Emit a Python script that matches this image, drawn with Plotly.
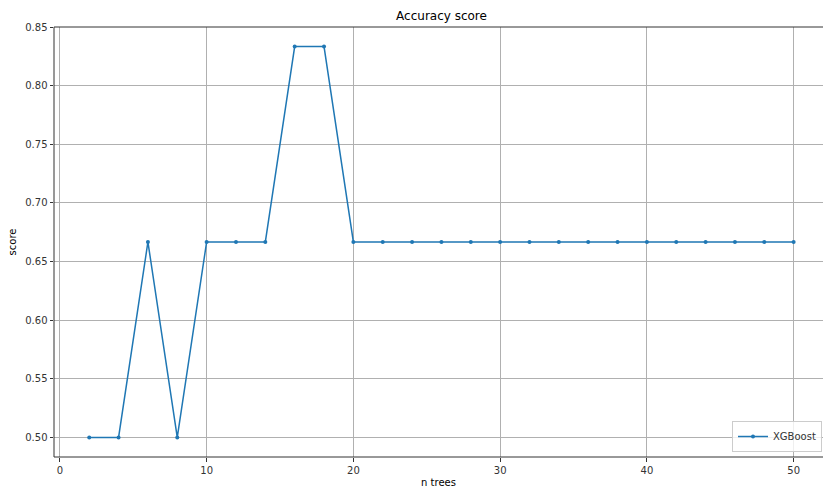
import plotly.graph_objects as go

# Number of trees in the ensemble and the resulting accuracy
n_trees = [2, 4, 6, 8, 10, 12, 14, 16, 18, 20, 22, 24, 26, 28, 30,
           32, 34, 36, 38, 40, 42, 44, 46, 48, 50]
accuracy = [0.5, 0.5, 0.6667, 0.5, 0.6667, 0.6667, 0.6667, 0.8333, 0.8333,
            0.6667, 0.6667, 0.6667, 0.6667, 0.6667, 0.6667, 0.6667, 0.6667,
            0.6667, 0.6667, 0.6667, 0.6667, 0.6667, 0.6667, 0.6667, 0.6667]

x_ticks = [0, 10, 20, 30, 40, 50]
y_ticks = [0.50, 0.55, 0.60, 0.65, 0.70, 0.75, 0.80, 0.85]

BLUE = "#1f77b4"
FONT = "DejaVu Sans"
SPINE = "#333333"

fig = go.Figure()
fig.add_trace(go.Scatter(
    x=n_trees, y=accuracy, mode="lines+markers", name="XGBoost",
    line=dict(color=BLUE, width=1.5),
    marker=dict(color=BLUE, size=4),
))

axis_common = dict(
    showgrid=True, gridcolor="#b0b0b0", gridwidth=0.8,
    showline=False,
    ticks="outside", ticklen=3.5, tickcolor=SPINE, tickwidth=0.8,
    tickfont=dict(family=FONT, size=10, color="#333333"),
    zeroline=False,
)

# left, bottom and top spines (no right spine)
for x0, y0, x1, y1 in [(0, 0, 0, 1), (0, 0, 1, 0), (0, 1, 1, 1)]:
    fig.add_shape(type="line", xref="paper", yref="paper",
                  x0=x0, y0=y0, x1=x1, y1=y1,
                  line=dict(color=SPINE, width=1), layer="above")

fig.update_layout(
    width=823, height=488,
    margin=dict(l=54, r=0, t=27, b=31),
    paper_bgcolor="white", plot_bgcolor="white",
    title=dict(text="Accuracy score", x=(54 + 823 + 6) / 2 / 823, xanchor="center",
               y=1 - 16 / 488, yanchor="middle",
               font=dict(family=FONT, size=12, color="black")),
    xaxis=dict(axis_common, range=[-0.4, 52.0], tickvals=x_ticks,
               ticktext=[str(v) for v in x_ticks],
               title=dict(text="n trees", standoff=4,
                          font=dict(family=FONT, size=10, color="black"))),
    yaxis=dict(axis_common, range=[0.48333, 0.85], tickvals=y_ticks,
               ticktext=[f"{v:.2f}" for v in y_ticks],
               title=dict(text="score", standoff=6,
                          font=dict(family=FONT, size=10, color="black"))),
    showlegend=True,
    legend=dict(x=0.9987, xanchor="right", y=0.0116, yanchor="bottom",
                bgcolor="rgba(255,255,255,0.8)", bordercolor="#cccccc",
                borderwidth=1, itemwidth=30,
                font=dict(family=FONT, size=10, color="#333333")),
)

fig.write_html("out.html")
